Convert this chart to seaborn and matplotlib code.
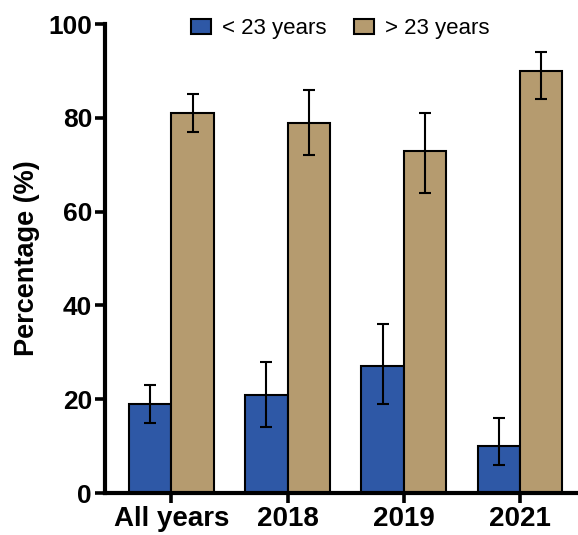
import pandas as pd
import matplotlib.pyplot as plt
import seaborn as sns

# Dados
categorias = ["All years", "2018", "2019", "2021"]
grupos = ["< 23 years", "> 23 years"]
media_menor = [19, 21, 27, 10]
baixo_menor = [15, 14, 19, 6]
alto_menor = [23, 28, 36, 16]
media_maior = [81, 79, 73, 90]
baixo_maior = [77, 72, 64, 84]
alto_maior = [85, 86, 81, 94]

cores = ["#2E58A6", "#B59B6F"]

df = pd.DataFrame({
    "Categoria": categorias * 2,
    "Grupo": [grupos[0]] * 4 + [grupos[1]] * 4,
    "Valor": media_menor + media_maior,
    "Baixo": baixo_menor + baixo_maior,
    "Alto": alto_menor + alto_maior,
})

sns.set_style("ticks")
plt.rcParams["font.family"] = ["Liberation Sans", "DejaVu Sans"]
plt.rcParams["text.color"] = "black"
plt.rcParams["axes.labelcolor"] = "black"
plt.rcParams["xtick.color"] = "black"
plt.rcParams["ytick.color"] = "black"
plt.rcParams["axes.edgecolor"] = "black"

fig = plt.figure(figsize=(5.78, 5.35), dpi=100)
ax = fig.add_axes([0.182, 0.0785, 0.818, 0.8765])

sns.barplot(data=df, x="Categoria", y="Valor", hue="Grupo", order=categorias,
            hue_order=grupos, palette=cores, saturation=1, width=0.73,
            edgecolor="black", linewidth=1.5, errorbar=None, ax=ax, zorder=2)

# Barras de erro assimétricas a partir das posições das barras
for container, grupo in zip(ax.containers, grupos):
    sub = df[df["Grupo"] == grupo].set_index("Categoria").loc[categorias]
    xs = [p.get_x() + p.get_width() / 2 for p in container.patches]
    err = [sub["Valor"] - sub["Baixo"], sub["Alto"] - sub["Valor"]]
    ax.errorbar(xs, sub["Valor"], yerr=err, fmt="none", ecolor="black",
                elinewidth=1.5, capsize=4, capthick=1.5, zorder=3)

ax.set_ylim(0, 100)
ax.set_xlim(-0.57, 3.5)
ax.set_yticks([0, 20, 40, 60, 80, 100])
ax.set_xlabel("")
ax.set_ylabel("Percentage (%)", fontsize=19.5, fontweight="bold", labelpad=6)

sns.despine(ax=ax)
for s in ["left", "bottom"]:
    ax.spines[s].set_linewidth(3)
ax.tick_params(axis="both", width=2.6, length=7.5, labelsize=19, pad=2)
for t in ax.get_yticklabels():
    t.set_fontweight("bold")
for t in ax.get_xticklabels():
    t.set_fontweight("bold")
    t.set_fontsize(20)

leg = ax.legend(ncol=2, frameon=False, loc="center", bbox_to_anchor=(0.497, 0.99),
                fontsize=16, handlelength=0.9, handleheight=0.68,
                handletextpad=0.5, columnspacing=1.2)

fig.savefig("out.png", dpi=100)
